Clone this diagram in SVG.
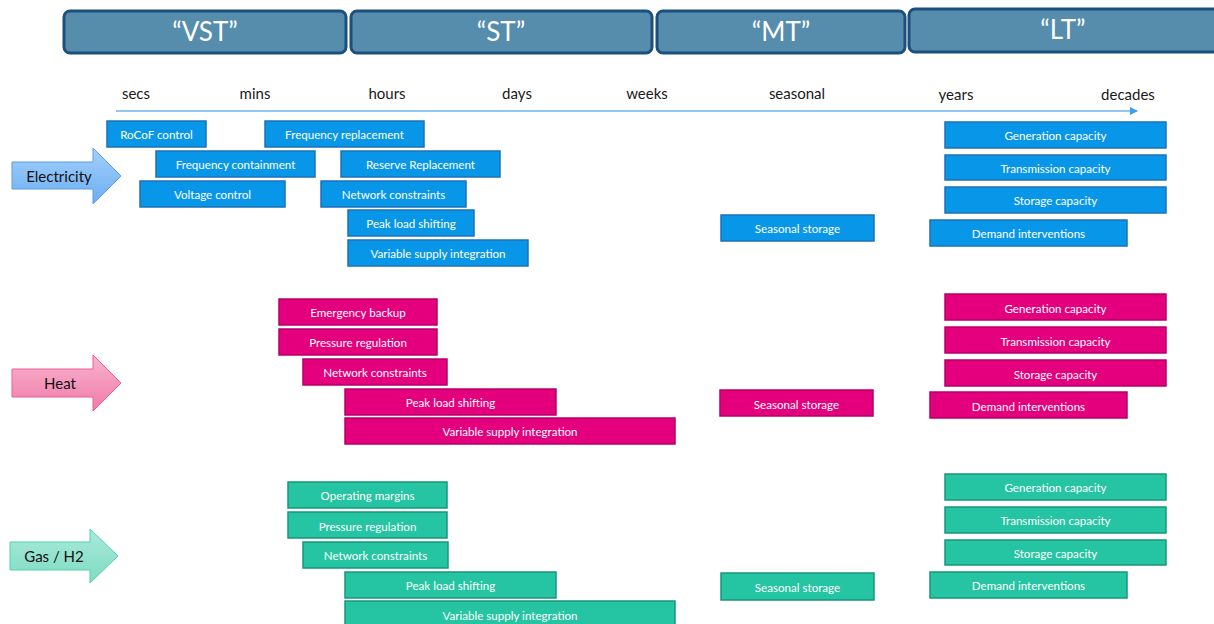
<svg xmlns="http://www.w3.org/2000/svg" width="1214" height="624" viewBox="0 0 1214 624">
<defs>
<style>
.hdr{fill:#568dac;stroke:#1b4f7c;stroke-width:3}
.ht{font-family:Lato,"Liberation Sans",sans-serif;font-size:26px;fill:#fff;text-anchor:middle}
.sc{font-family:Lato,"Liberation Sans",sans-serif;font-size:15px;fill:#1a1a1a;text-anchor:middle}
.bt{font-family:Lato,"Liberation Sans",sans-serif;font-size:11.6px;fill:#fff;text-anchor:middle;dominant-baseline:central}
.at{font-family:Lato,"Liberation Sans",sans-serif;font-size:15px;fill:#111;text-anchor:middle;dominant-baseline:central}
.e rect{fill:#0897e8;stroke:#1c72b6;stroke-width:1.5}
.h rect{fill:#e4007d;stroke:#b5006a;stroke-width:1.5}
.g rect{fill:#25c4a2;stroke:#17977c;stroke-width:1.5}
</style>
<linearGradient id="ge" x1="0" y1="0" x2="0" y2="1"><stop offset="0" stop-color="#a4d0fb"/><stop offset="1" stop-color="#6aaef2"/></linearGradient>
<linearGradient id="gh" x1="0" y1="0" x2="0" y2="1"><stop offset="0" stop-color="#f9b4cf"/><stop offset="1" stop-color="#f07aa8"/></linearGradient>
<linearGradient id="gg" x1="0" y1="0" x2="0" y2="1"><stop offset="0" stop-color="#a9eada"/><stop offset="1" stop-color="#7ddcc1"/></linearGradient>
<marker id="ah" markerWidth="8" markerHeight="8" refX="7" refY="4" orient="auto" markerUnits="userSpaceOnUse"><path d="M0,0 L8,4 L0,8 Z" fill="#3ba0ec"/></marker>
</defs>
<rect width="1214" height="624" fill="#fff"/>

<g id="headers">
<g id="h-vst"><rect class="hdr" x="64" y="11" width="282" height="42" rx="6"/><text class="ht" x="205" y="41">“VST”</text></g>
<g id="h-st"><rect class="hdr" x="351" y="11" width="301" height="42" rx="6"/><text class="ht" x="501" y="41">“ST”</text></g>
<g id="h-mt"><rect class="hdr" x="657" y="11" width="248" height="42" rx="6"/><text class="ht" x="781" y="41">“MT”</text></g>
<g id="h-lt"><rect class="hdr" x="909" y="9" width="310" height="43" rx="6"/><text class="ht" x="1063" y="39">“LT”</text></g>
</g>

<g id="scale">
<text class="sc" x="136" y="99">secs</text>
<text class="sc" x="255" y="99">mins</text>
<text class="sc" x="387" y="99">hours</text>
<text class="sc" x="517" y="99">days</text>
<text class="sc" x="647" y="99">weeks</text>
<text class="sc" x="797" y="99">seasonal</text>
<text class="sc" x="956" y="100">years</text>
<text class="sc" x="1128" y="100">decades</text>
</g>

<g id="connectors">
<line x1="116" y1="111" x2="1137" y2="111" stroke="#6cb4ee" stroke-width="1.5" marker-end="url(#ah)"/>
</g>

<g id="sector-arrows">
<g id="a-elec"><path d="M12,162 L93,162 L93,148 L121,176 L93,204 L93,189 L12,189 Z" fill="url(#ge)" stroke="#5d9de0" stroke-width="1"/><text class="at" x="59" y="176">Electricity</text></g>
<g id="a-heat"><path d="M12,369 L93,369 L93,355 L121,383 L93,411 L93,397 L12,397 Z" fill="url(#gh)" stroke="#ee5c98" stroke-width="1"/><text class="at" x="60" y="383">Heat</text></g>
<g id="a-gas"><path d="M10,542 L90,542 L90,529 L118,556 L90,583 L90,570 L10,570 Z" fill="url(#gg)" stroke="#55cfae" stroke-width="1"/><text class="at" x="54" y="556">Gas / H2</text></g>
</g>

<g class="e">
<g id="e1"><rect x="107" y="121" width="99" height="26"/><text class="bt" x="156.5" y="134">RoCoF control</text></g>
<g id="e2"><rect x="265" y="121" width="159" height="26"/><text class="bt" x="344.5" y="134">Frequency replacement</text></g>
<g id="e3"><rect x="156" y="151" width="159" height="26"/><text class="bt" x="235.5" y="164">Frequency containment</text></g>
<g id="e4"><rect x="341" y="151" width="159" height="26"/><text class="bt" x="420.5" y="164">Reserve Replacement</text></g>
<g id="e5"><rect x="140" y="181" width="145" height="26"/><text class="bt" x="212.5" y="194">Voltage control</text></g>
<g id="e6"><rect x="321" y="181" width="145" height="26"/><text class="bt" x="393.5" y="194">Network constraints</text></g>
<g id="e7"><rect x="348" y="210" width="126" height="26"/><text class="bt" x="411" y="223">Peak load shifting</text></g>
<g id="e8"><rect x="348" y="240" width="180" height="26"/><text class="bt" x="438" y="253">Variable supply integration</text></g>
<g id="e9"><rect x="721" y="215" width="153" height="26"/><text class="bt" x="797.5" y="228">Seasonal storage</text></g>
<g id="e10"><rect x="945" y="122" width="221" height="26"/><text class="bt" x="1055.5" y="135">Generation capacity</text></g>
<g id="e11"><rect x="945" y="155" width="221" height="25"/><text class="bt" x="1055.5" y="168">Transmission capacity</text></g>
<g id="e12"><rect x="945" y="187" width="221" height="26"/><text class="bt" x="1055.5" y="200">Storage capacity</text></g>
<g id="e13"><rect x="930" y="220" width="197" height="26"/><text class="bt" x="1028.5" y="233">Demand interventions</text></g>
</g>

<g class="h">
<g id="h1"><rect x="279" y="299" width="158" height="26"/><text class="bt" x="358" y="312">Emergency backup</text></g>
<g id="h2"><rect x="279" y="329" width="158" height="26"/><text class="bt" x="358" y="342">Pressure regulation</text></g>
<g id="h3"><rect x="303" y="359" width="144" height="26"/><text class="bt" x="375" y="372">Network constraints</text></g>
<g id="h4"><rect x="345" y="389" width="211" height="26"/><text class="bt" x="450.5" y="402">Peak load shifting</text></g>
<g id="h5"><rect x="345" y="418" width="330" height="26"/><text class="bt" x="510" y="431">Variable supply integration</text></g>
<g id="h6"><rect x="720" y="390" width="153" height="26"/><text class="bt" x="796.5" y="404">Seasonal storage</text></g>
<g id="h7"><rect x="945" y="294" width="221" height="26"/><text class="bt" x="1055.5" y="308">Generation capacity</text></g>
<g id="h8"><rect x="945" y="327" width="221" height="26"/><text class="bt" x="1055.5" y="341">Transmission capacity</text></g>
<g id="h9"><rect x="945" y="360" width="221" height="26"/><text class="bt" x="1055.5" y="374">Storage capacity</text></g>
<g id="h10"><rect x="930" y="392" width="197" height="26"/><text class="bt" x="1028.5" y="406">Demand interventions</text></g>
</g>

<g class="g">
<g id="g1"><rect x="288" y="482" width="159" height="26"/><text class="bt" x="367.5" y="495">Operating margins</text></g>
<g id="g2"><rect x="288" y="512" width="159" height="26"/><text class="bt" x="367.5" y="526">Pressure regulation</text></g>
<g id="g3"><rect x="303" y="542" width="145" height="26"/><text class="bt" x="375.5" y="555">Network constraints</text></g>
<g id="g4"><rect x="345" y="572" width="211" height="26"/><text class="bt" x="450.5" y="585">Peak load shifting</text></g>
<g id="g5"><rect x="345" y="601" width="330" height="26"/><text class="bt" x="510" y="615">Variable supply integration</text></g>
<g id="g6"><rect x="721" y="573" width="153" height="27"/><text class="bt" x="797.5" y="587">Seasonal storage</text></g>
<g id="g7"><rect x="945" y="474" width="221" height="26"/><text class="bt" x="1055.5" y="487">Generation capacity</text></g>
<g id="g8"><rect x="945" y="507" width="221" height="26"/><text class="bt" x="1055.5" y="520">Transmission capacity</text></g>
<g id="g9"><rect x="945" y="540" width="221" height="25"/><text class="bt" x="1055.5" y="553">Storage capacity</text></g>
<g id="g10"><rect x="930" y="572" width="197" height="26"/><text class="bt" x="1028.5" y="585">Demand interventions</text></g>
</g>
</svg>
